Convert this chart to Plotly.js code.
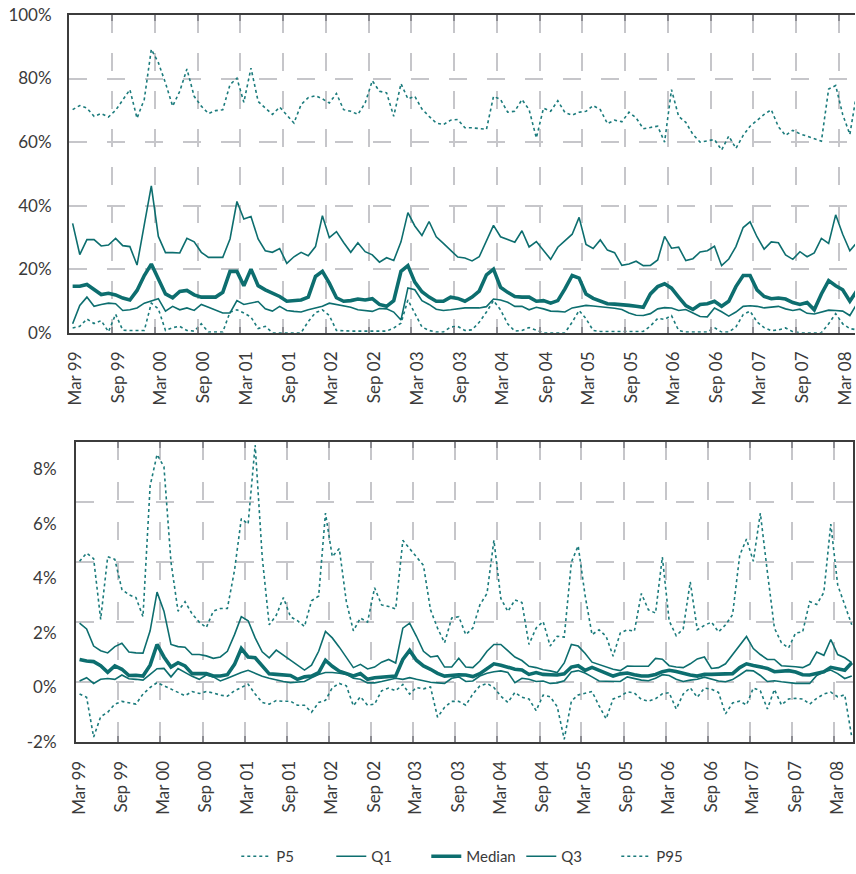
<!DOCTYPE html>
<html><head><meta charset="utf-8">
<script src="https://cdn.plot.ly/plotly-3.0.1.min.js"></script>
<style>html,body{margin:0;padding:0;background:#fff}#chart{width:856px;height:874px}</style>
</head><body><div id="chart"></div>
<script>
// monthly observations, Mar 1999 .. May 2008
const firstYear = 1999, firstMonth = 3, nMonths = 111;
const months = [];
for (let k = 0; k < nMonths; k++) {
  const m0 = firstMonth - 1 + k;
  months.push((firstYear + Math.floor(m0 / 12)) + "-" + String(m0 % 12 + 1).padStart(2, "0") + "-01");
}

const tickDates = ["1999-03-01","1999-09-01","2000-03-01","2000-09-01","2001-03-01","2001-09-01","2002-03-01","2002-09-01","2003-03-01","2003-09-01","2004-03-01","2004-09-01","2005-03-01","2005-09-01","2006-03-01","2006-09-01","2007-03-01","2007-09-01","2008-03-01"];
const tickLabels = ["Mar 99","Sep 99","Mar 00","Sep 00","Mar 01","Sep 01","Mar 02","Sep 02","Mar 03","Sep 03","Mar 04","Sep 04","Mar 05","Sep 05","Mar 06","Sep 06","Mar 07","Sep 07","Mar 08"];
const seriesNames = ["P5","Q1","Median","Q3","P95"];

// top panel (%)
const topP5 = [1.5,2.0,4.3,2.9,3.8,0.3,5.8,0.8,0.7,0.7,
 0.7,9.3,7.5,0.7,1.6,2.0,0.7,0.5,2.8,0.2,
 0.2,0.2,6.5,7.2,6.2,4.9,1.3,2.0,0.0,0.0,
 0.0,0.0,0.0,3.5,6.3,7.2,5.4,0.7,0.5,0.5,
 0.5,0.5,0.5,0.5,0.5,1.5,3.0,10.3,6.0,1.8,
 0.7,0.2,0.2,1.8,2.0,0.7,0.9,3.3,6.5,10.1,
 7.2,2.8,0.5,0.7,1.6,0.7,0.0,0.0,0.0,0.0,
 3.3,7.0,4.4,0.7,0.4,0.4,0.4,0.4,0.4,0.4,
 0.4,2.1,4.5,4.2,5.4,0.7,0.2,0.2,0.2,0.2,
 1.6,0.2,0.2,1.8,5.7,6.8,3.4,1.6,0.6,0.9,
 1.5,0.3,0.0,0.0,0.0,0.0,2.8,6.0,2.8,1.3,0.9];
const topQ1 = [2.8,8.6,11.2,8.3,8.9,9.3,9.1,7.0,7.2,7.8,
 9.3,9.9,10.7,6.8,8.3,7.2,7.8,7.0,8.9,8.0,
 7.2,6.2,6.2,10.1,8.9,9.4,9.8,7.5,6.8,8.3,
 7.0,6.7,6.5,7.2,7.8,8.3,9.3,8.9,8.6,8.0,
 7.2,6.9,6.7,7.6,7.5,6.5,4.0,14.1,13.5,10.1,
 8.9,7.4,7.0,7.2,7.6,7.8,7.8,7.8,8.2,10.6,
 10.3,9.6,8.3,8.3,7.2,8.0,7.5,6.8,6.7,6.5,
 7.8,8.3,8.6,8.4,8.2,8.0,7.7,7.3,6.2,5.5,
 5.4,6.0,7.5,7.9,7.8,7.0,7.3,6.2,5.1,5.0,
 7.8,6.6,5.2,6.5,8.3,8.5,8.3,7.8,8.0,8.3,
 7.5,7.0,7.4,6.1,5.9,6.5,7.1,7.0,6.8,5.4,9.1];
const topMedian = [14.6,14.6,15.2,13.5,12.0,12.4,11.9,10.9,10.3,13.3,
 18.0,21.6,16.9,12.2,11.0,13.0,13.3,11.9,11.2,11.2,
 11.2,12.7,19.3,19.3,14.8,20.0,14.8,13.5,12.4,11.4,
 9.9,10.1,10.3,11.2,17.7,19.3,15.6,11.0,9.9,10.1,
 10.6,10.3,10.7,8.9,8.3,10.1,19.3,21.1,15.9,12.9,
 11.2,9.9,9.9,11.2,10.8,9.9,11.2,13.1,18.2,20.0,
 14.3,12.7,11.4,11.2,11.2,9.9,10.1,9.3,10.1,13.8,
 18.0,17.2,12.2,10.8,9.9,9.1,9.0,8.9,8.6,8.3,
 8.0,12.2,14.5,15.4,14.0,11.2,8.5,7.3,8.9,9.1,
 9.9,8.3,9.9,14.5,18.0,18.0,13.5,11.4,10.7,10.9,
 10.6,9.5,8.9,9.5,7.2,12.2,16.4,14.8,13.5,9.9,13.3];
const topQ3 = [34.4,24.6,29.3,29.3,27.3,27.6,29.7,27.4,27.1,21.3,
 34.0,46.2,30.3,25.2,25.2,25.1,29.7,28.6,25.3,23.7,
 23.7,23.7,29.5,41.3,35.8,36.6,29.5,25.8,25.3,26.5,
 21.8,23.9,25.3,24.2,27.1,36.8,29.9,31.8,28.4,25.3,
 28.3,25.5,24.5,22.2,23.6,22.7,28.6,37.8,33.6,30.6,
 35.0,30.2,28.1,25.8,23.8,23.5,22.6,23.9,28.9,33.8,
 30.2,29.4,28.5,32.1,27.0,28.7,26.0,23.1,26.9,28.9,
 31.0,36.3,27.8,26.5,29.2,26.0,25.2,21.2,21.6,22.5,
 21.1,21.2,22.9,30.3,26.6,26.9,22.7,23.3,25.4,25.8,
 27.2,21.1,23.2,27.1,33.1,34.9,30.2,26.3,28.6,28.3,
 24.5,23.1,25.5,23.9,25.1,29.7,28.1,37.1,31.0,25.8,28.4];
const topP95 = [70.2,71.5,70.7,68.1,69.0,67.9,70.0,73.4,76.5,67.5,
 73.5,89.2,85.0,78.6,71.3,76.0,83.0,74.4,71.3,69.0,
 69.9,70.2,78.1,80.1,72.5,83.3,72.8,70.7,68.7,71.0,
 68.5,66.0,71.8,74.0,74.6,73.6,72.3,75.3,70.2,69.7,
 68.7,72.3,79.3,76.0,75.5,68.1,78.4,73.6,74.4,70.4,
 68.1,66.0,65.5,66.9,67.1,64.5,64.5,64.2,64.0,74.4,
 73.4,69.4,69.7,73.4,70.2,61.3,70.7,69.7,73.0,69.3,
 68.5,69.4,69.7,71.5,70.2,65.8,66.9,66.4,69.4,67.6,
 64.2,64.6,65.0,60.0,76.5,68.1,66.2,62.4,60.0,60.4,
 60.8,57.5,61.9,58.0,62.1,65.0,66.9,68.7,70.2,64.8,
 62.1,63.7,62.6,61.9,61.0,60.3,76.7,77.8,68.7,62.4,76.0];

// bottom panel (%)
const botP5 = [-0.24,-0.36,-1.82,-1.07,-0.91,-0.61,-0.51,-0.56,-0.61,-0.24,
 0.0,0.18,0.06,-0.06,-0.18,-0.3,-0.15,-0.22,-0.15,-0.2,
 -0.28,-0.32,-0.12,0.0,0.12,-0.24,-0.55,-0.61,-0.48,-0.51,
 -0.5,-0.65,-0.65,-0.91,-0.55,-0.47,-0.01,0.15,0.06,-0.67,
 -0.34,-0.65,-0.61,-0.12,-0.02,-0.12,0.11,-0.24,0.0,-0.05,
 0.02,-1.09,-0.73,-0.51,-0.51,-0.65,-0.24,0.06,0.15,0.0,
 -0.32,-0.55,-0.18,-0.36,-0.42,-0.85,-0.28,-0.34,-0.7,-1.9,
 -0.5,-0.27,-0.2,-0.15,-0.67,-1.15,-0.42,-0.32,-0.16,-0.2,
 -0.44,-0.5,-0.41,-0.23,-0.19,-0.79,-0.24,-0.01,-0.36,-0.02,
 -0.06,-0.18,-0.97,-0.57,-0.5,-0.64,-0.02,-0.12,-0.79,-0.07,
 -0.64,-0.42,-0.4,-0.42,-0.61,-0.4,-0.24,-0.17,-0.34,-0.27,-1.82];
const botQ1 = [0.24,0.36,0.15,0.3,0.33,0.3,0.46,0.32,0.3,0.27,
 0.48,0.69,0.7,0.39,0.7,0.56,0.41,0.3,0.46,0.39,
 0.24,0.34,0.46,0.55,0.63,0.52,0.41,0.34,0.27,0.22,
 0.18,0.19,0.22,0.36,0.48,0.55,0.55,0.52,0.48,0.34,
 0.3,0.17,0.17,0.22,0.28,0.34,0.3,0.36,0.3,0.24,
 0.19,0.17,0.15,0.34,0.39,0.22,0.24,0.42,0.52,0.58,
 0.61,0.55,0.18,0.34,0.3,0.22,0.24,0.15,0.17,0.25,
 0.57,0.62,0.53,0.39,0.24,0.23,0.23,0.22,0.39,0.34,
 0.27,0.25,0.34,0.47,0.44,0.3,0.22,0.27,0.3,0.38,
 0.3,0.24,0.21,0.29,0.46,0.63,0.61,0.44,0.22,0.25,
 0.21,0.17,0.15,0.15,0.15,0.44,0.57,0.64,0.51,0.33,0.42];
const botMedian = [1.03,0.97,0.95,0.8,0.56,0.79,0.67,0.44,0.45,0.42,
 0.82,1.58,1.12,0.75,0.91,0.79,0.51,0.51,0.51,0.42,
 0.42,0.47,0.85,1.43,1.12,1.09,0.79,0.5,0.48,0.47,
 0.44,0.3,0.39,0.42,0.55,1.0,0.78,0.6,0.51,0.42,
 0.51,0.3,0.36,0.39,0.4,0.42,1.03,1.36,1.0,0.79,
 0.67,0.52,0.42,0.46,0.47,0.46,0.4,0.51,0.7,0.87,
 0.82,0.75,0.67,0.64,0.48,0.55,0.48,0.47,0.46,0.5,
 0.75,0.8,0.63,0.74,0.64,0.51,0.42,0.5,0.53,0.47,
 0.42,0.42,0.48,0.58,0.63,0.59,0.52,0.46,0.42,0.48,
 0.48,0.48,0.48,0.51,0.73,0.87,0.81,0.75,0.7,0.58,
 0.59,0.62,0.57,0.47,0.46,0.52,0.58,0.74,0.7,0.63,0.91];
const botQ3 = [2.36,2.15,1.52,1.35,1.27,1.5,1.62,1.3,1.27,1.26,
 2.08,3.5,2.8,1.58,1.5,1.48,1.21,1.21,1.16,1.07,
 1.12,1.33,1.94,2.6,2.45,1.82,1.31,1.09,1.37,1.18,
 1.0,0.81,0.64,0.82,1.33,2.06,1.82,1.48,1.09,0.73,
 0.85,0.68,0.75,0.93,1.03,0.9,2.18,2.36,1.88,1.33,
 1.12,1.16,0.75,0.75,1.07,0.75,0.73,0.97,1.33,1.58,
 1.58,1.36,1.12,0.99,0.78,0.73,0.65,0.61,0.55,0.9,
 1.58,1.52,1.26,0.93,0.85,0.75,0.67,0.62,0.79,0.78,
 0.79,0.78,1.07,1.04,0.8,0.75,0.73,0.87,1.05,1.12,
 0.7,0.73,0.87,1.21,1.58,1.87,1.43,1.21,1.03,1.03,
 0.8,0.79,0.76,0.73,0.85,1.3,1.18,1.76,1.21,1.09,0.91];
const botP95 = [4.63,4.93,4.73,2.5,4.8,4.7,3.6,3.4,3.3,2.6,
 7.4,8.55,8.1,4.6,2.8,3.15,2.7,2.4,2.2,2.8,
 2.9,2.9,4.3,6.2,6.0,8.9,4.8,2.3,2.65,3.3,
 2.6,2.45,2.24,3.18,3.36,6.4,4.8,5.1,3.15,2.08,
 2.55,2.4,3.66,3.03,2.97,2.88,5.4,5.1,4.8,4.48,
 2.85,2.18,1.64,2.55,2.6,1.94,2.18,3.03,3.45,5.4,
 3.27,2.79,3.21,3.12,1.58,2.18,2.42,1.52,1.88,1.85,
 4.6,5.2,3.4,1.94,2.12,1.88,1.15,2.0,2.12,2.06,
 3.45,2.85,2.73,4.79,2.45,1.9,2.15,3.88,2.12,2.28,
 2.4,2.04,2.3,2.67,4.85,5.45,4.63,6.4,4.24,2.18,
 1.64,1.45,2.0,2.04,3.15,3.05,3.49,6.0,3.76,3.03,2.3];

const topTicks = [0,20,40,60,80,100];
const topTickText = ["0%","20%","40%","60%","80%","100%"];
const botTicks = [-2,0,2,4,6,8];
const botTickText = ["-2%","0%","2%","4%","6%","8%"];
const botGridVals = [-2,0.2,2.4,4.6,6.8,9];

const teal = "#0d6e6f";
const tealDot = "#1b7b7c";
const styles = [
  {color: tealDot, width: 1.6, dash: "dot"},
  {color: teal, width: 1.6, dash: "solid"},
  {color: teal, width: 3.6, dash: "solid"},
  {color: teal, width: 1.6, dash: "solid"},
  {color: tealDot, width: 1.6, dash: "dot"}
];
const topSeries = [topP5, topQ1, topMedian, topQ3, topP95];
const botSeries = [botP5, botQ1, botMedian, botQ3, botP95];

const traces = [];
topSeries.forEach((ys, k) => traces.push({
  type: "scatter", mode: "lines", x: months, y: ys, name: seriesNames[k],
  xperiod: "M1", xperiodalignment: "middle",
  line: styles[k], legendgroup: seriesNames[k], showlegend: true,
  xaxis: "x", yaxis: "y", hoverinfo: "skip"
}));
botSeries.forEach((ys, k) => traces.push({
  type: "scatter", mode: "lines", x: months, y: ys, name: seriesNames[k],
  xperiod: "M1", xperiodalignment: "middle",
  line: styles[k], legendgroup: seriesNames[k], showlegend: false,
  xaxis: "x2", yaxis: "y2", hoverinfo: "skip"
}));
traces.push({type: "scatter", mode: "lines", x: [], y: [], xaxis: "x2", yaxis: "y3", showlegend: false, hoverinfo: "skip"});

const gridColor = "#c6c6ca";
const axisColor = "#3c3c3c";
const xCommon = {
  type: "date", tickmode: "array", tickvals: tickDates, ticktext: tickLabels,
  tickangle: -90, showgrid: true, gridcolor: gridColor, gridwidth: 2,
  ticks: "inside", ticklen: 6, tickwidth: 2, tickcolor: "#8c8c92",
  showline: true, linecolor: axisColor, linewidth: 2, mirror: "ticks",
  zeroline: false, tickfont: {size: 17, color: "#3a3a3a"}, fixedrange: true,
  ticklabeloverflow: "allow"
};

const layout = {
  width: 856, height: 874,
  margin: {l: 69, r: 1, t: 15, b: 129},
  paper_bgcolor: "#ffffff", plot_bgcolor: "#ffffff",
  font: {family: "Lato, 'Open Sans', sans-serif", color: "#3a3a3a", size: 17},
  showlegend: true,
  legend: {orientation: "h", x: 0.515, xanchor: "center", y: -0.1575, yanchor: "middle",
    font: {size: 15, color: "#3a3a3a"}, entrywidth: 50, entrywidthmode: "pixels", bgcolor: "rgba(0,0,0,0)"},
  xaxis: Object.assign({}, xCommon, {domain: [0, 1], anchor: "y", range: ["1999-03-01", "2008-05-08"],
    griddash: "18px,20px", ticklabelshift: 6, ticklabelstandoff: 10}),
  yaxis: {domain: [0.563, 1], anchor: "x", range: [0, 100], tickmode: "array", tickvals: topTicks, ticktext: topTickText,
    showgrid: true, gridcolor: gridColor, gridwidth: 2, griddash: "18px,20px",
    showline: true, linecolor: axisColor, linewidth: 2, mirror: false, ticks: "", zeroline: false,
    ticklabelstandoff: 12, tickfont: {size: 17, color: "#3a3a3a"}, fixedrange: true},
  xaxis2: Object.assign({}, xCommon, {domain: [0.0089, 0.9975], anchor: "y2", range: ["1999-03-01", "2008-05-22"],
    griddash: "18px,22px", ticklabelshift: 3, ticklabelstandoff: 10}),
  yaxis2: {domain: [0, 0.4123], anchor: "x2", range: [-2, 9], tickmode: "array", tickvals: botTicks, ticktext: botTickText,
    showgrid: false, showline: true, linecolor: axisColor, linewidth: 2, mirror: true, ticks: "", zeroline: false,
    ticklabelstandoff: 14, tickfont: {size: 17, color: "#3a3a3a"}, fixedrange: true},
  yaxis3: {overlaying: "y2", anchor: "x2", range: [-2, 9], tickmode: "array", tickvals: botGridVals,
    showticklabels: false, showgrid: true, gridcolor: gridColor, gridwidth: 2, griddash: "18px,22px",
    showline: false, ticks: "", zeroline: false, fixedrange: true}
};

Plotly.newPlot("chart", traces, layout, {displayModeBar: false, staticPlot: true});
</script>
</body></html>
